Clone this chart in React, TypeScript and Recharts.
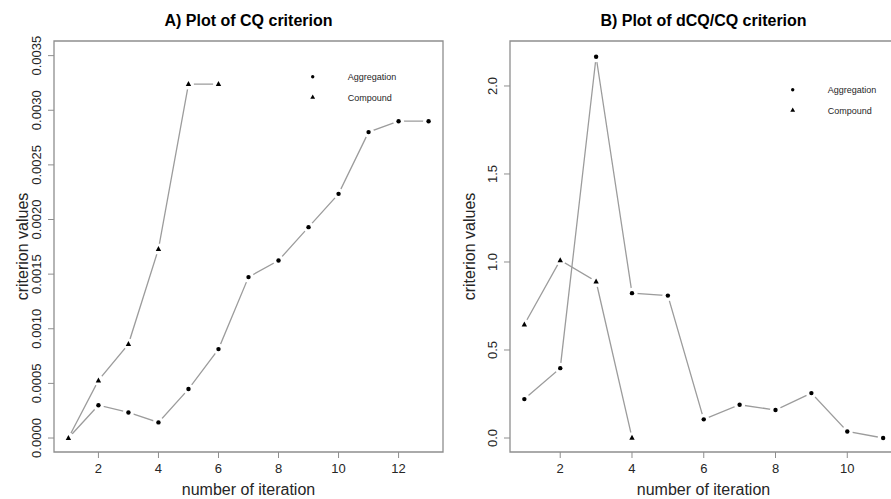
import React from 'react';
import { LineChart, Line, XAxis, YAxis, ReferenceArea, Legend, Label } from 'recharts';

// ---------- data ----------
const iterAggA = [1, 2, 3, 4, 5, 6, 7, 8, 9, 10, 11, 12, 13];
const cqAggregation = [0, 0.0003, 0.000234, 0.000143, 0.000448, 0.000814, 0.001473, 0.001625, 0.00193, 0.002235, 0.0028, 0.0029, 0.0029];
const iterCompA = [1, 2, 3, 4, 5, 6];
const cqCompound = [0, 0.000527, 0.00086, 0.00173, 0.00324, 0.00324];

const iterAggB = [1, 2, 3, 4, 5, 6, 7, 8, 9, 10, 11];
const dcqAggregation = [0.221, 0.397, 2.166, 0.823, 0.809, 0.106, 0.189, 0.159, 0.255, 0.037, 0.0];
const iterCompB = [1, 2, 3, 4];
const dcqCompound = [0.645, 1.01, 0.889, 0.002];

const xTicksA = [2, 4, 6, 8, 10, 12];
const yTicksA = [0, 0.0005, 0.001, 0.0015, 0.002, 0.0025, 0.003, 0.0035];
const xTicksB = [2, 4, 6, 8, 10];
const yTicksB = [0, 0.5, 1.0, 1.5, 2.0];

const seriesNames = ['Aggregation', 'Compound'];
const titles = ['A) Plot of CQ criterion', 'B) Plot of dCQ/CQ criterion'];
const xTitle = 'number of iteration';
const yTitle = 'criterion values';

const toPoints = (xs: number[], ys: number[]) => xs.map((x, i) => ({ x, y: ys[i] }));

// ---------- style ----------
const FONT = '"Liberation Sans", Arial, Helvetica, sans-serif';
const TEXT = '#262626';
const GREY = '#8e8e8e';
const LINE = '#9c9c9c';

function makeDot(kind: 'dot' | 'tri') {
  return (p: any) => {
    const { cx, cy, index } = p;
    if (cx == null || cy == null) return <g key={`${kind}-${index}`} />;
    return (
      <g key={`${kind}-${index}`}>
        <circle cx={cx} cy={cy} r={5.5} fill="#fff" />
        {kind === 'dot' ? (
          <circle cx={cx} cy={cy} r={2.2} fill="#000" />
        ) : (
          <polygon points={`${cx},${cy - 3} ${cx - 2.7},${cy + 2} ${cx + 2.7},${cy + 2}`} fill="#000" />
        )}
      </g>
    );
  };
}

const XTick = (p: any) => (
  <text x={p.x} y={p.y + 15} textAnchor="middle" fontSize={13} fontFamily={FONT} fill={TEXT}>
    {p.payload.value}
  </text>
);

const makeYTick = (digits: number) => (p: any) => {
  const bx = p.x - 6.5;
  return (
    <text x={bx} y={p.y} transform={`rotate(-90, ${bx}, ${p.y})`} textAnchor="middle" fontSize={13} fontFamily={FONT} fill={TEXT}>
      {Number(p.payload.value).toFixed(digits)}
    </text>
  );
};

type PanelProps = {
  left: number;
  width: number;
  yAxisWidth: number;
  marginRight: number;
  title: string;
  xDomain: [number, number];
  yDomain: [number, number];
  xTicks: number[];
  yTicks: number[];
  digits: number;
  agg: { x: number; y: number }[];
  comp: { x: number; y: number }[];
  centerX: number;
  yTitleX: number;
  legendLeft: number;
  legendTop: number;
};

function Panel(pp: PanelProps) {
  const plotTop = 41;
  const plotBottom = 452;
  return (
    <div style={{ position: 'absolute', left: pp.left, top: 0, width: pp.width, height: 499 }}>
      <LineChart width={pp.width} height={499} margin={{ top: plotTop, right: pp.marginRight, bottom: 0, left: 0 }}>
        <XAxis
          type="number"
          dataKey="x"
          domain={pp.xDomain}
          ticks={pp.xTicks}
          allowDataOverflow
          interval={0}
          height={47}
          tickSize={6}
          tickMargin={0}
          axisLine={false}
          tickLine={{ stroke: GREY, strokeWidth: 1 }}
          tick={XTick}
        >
          <Label
            content={() => (
              <text x={pp.centerX} y={495} textAnchor="middle" fontSize={16} fontFamily={FONT} fill={TEXT}>
                {xTitle}
              </text>
            )}
          />
        </XAxis>
        <YAxis
          type="number"
          dataKey="y"
          domain={pp.yDomain}
          ticks={pp.yTicks}
          allowDataOverflow
          interval={0}
          width={pp.yAxisWidth}
          tickSize={6}
          tickMargin={0}
          axisLine={false}
          tickLine={{ stroke: GREY, strokeWidth: 1 }}
          tick={makeYTick(pp.digits)}
        >
          <Label
            content={() => {
              const cy = (plotTop + plotBottom) / 2;
              return (
                <text x={pp.yTitleX} y={cy} transform={`rotate(-90, ${pp.yTitleX}, ${cy})`} textAnchor="middle" fontSize={16} fontFamily={FONT} fill={TEXT}>
                  {yTitle}
                </text>
              );
            }}
          />
        </YAxis>
        <ReferenceArea
          x1={pp.xDomain[0]}
          x2={pp.xDomain[1]}
          y1={pp.yDomain[0]}
          y2={pp.yDomain[1]}
          fill="none"
          fillOpacity={0}
          stroke={GREY}
          strokeWidth={1.3}
          ifOverflow="visible"
          label={
            <Label
              content={() => (
                <text x={pp.centerX} y={25.5} textAnchor="middle" fontSize={16} fontWeight="bold" fontFamily={FONT} fill="#000">
                  {pp.title}
                </text>
              )}
            />
          }
        />
        <Line
          data={pp.agg}
          dataKey="y"
          name={seriesNames[0]}
          type="linear"
          stroke={LINE}
          strokeWidth={1.3}
          dot={makeDot('dot')}
          activeDot={false}
          isAnimationActive={false}
        />
        <Line
          data={pp.comp}
          dataKey="y"
          name={seriesNames[1]}
          type="linear"
          stroke={LINE}
          strokeWidth={1.3}
          dot={makeDot('tri')}
          activeDot={false}
          isAnimationActive={false}
        />
        <Legend
          layout="vertical"
          align="center"
          verticalAlign="middle"
          wrapperStyle={{ left: pp.legendLeft, top: pp.legendTop, width: 120, height: 45 }}
          content={() => (
            <svg width={120} height={45} style={{ display: 'block' }}>
              <circle cx={12.7} cy={11.7} r={1.7} fill="#000" />
              <text x={47.7} y={15.3} fontSize={9} fontFamily={FONT} fill={TEXT}>
                {seriesNames[0]}
              </text>
              <polygon points={`12.7,29.6 10.3,33.8 15.1,33.8`} fill="#000" />
              <text x={47.7} y={35.5} fontSize={9} fontFamily={FONT} fill={TEXT}>
                {seriesNames[1]}
              </text>
            </svg>
          )}
        />
      </LineChart>
    </div>
  );
}

export default function App() {
  return (
    <div style={{ position: 'absolute', left: 0, top: 0, width: 891, height: 499, background: '#fff', overflow: 'hidden' }}>
      <Panel
        left={0}
        width={450}
        yAxisWidth={54}
        marginRight={7}
        title={titles[0]}
        xDomain={[0.52, 13.48]}
        yDomain={[-0.000128, 0.003634]}
        xTicks={xTicksA}
        yTicks={yTicksA}
        digits={4}
        agg={toPoints(iterAggA, cqAggregation)}
        comp={toPoints(iterCompA, cqCompound)}
        centerX={248.5}
        yTitleX={28}
        legendLeft={300}
        legendTop={65}
      />
      <Panel
        left={445}
        width={460}
        yAxisWidth={65}
        marginRight={7.5}
        title={titles[1]}
        xDomain={[0.6, 11.4]}
        yDomain={[-0.0795, 2.2555]}
        xTicks={xTicksB}
        yTicks={yTicksB}
        digits={1}
        agg={toPoints(iterAggB, dcqAggregation)}
        comp={toPoints(iterCompB, dcqCompound)}
        centerX={258.5}
        yTitleX={30}
        legendLeft={334.6}
        legendTop={77.6}
      />
    </div>
  );
}
